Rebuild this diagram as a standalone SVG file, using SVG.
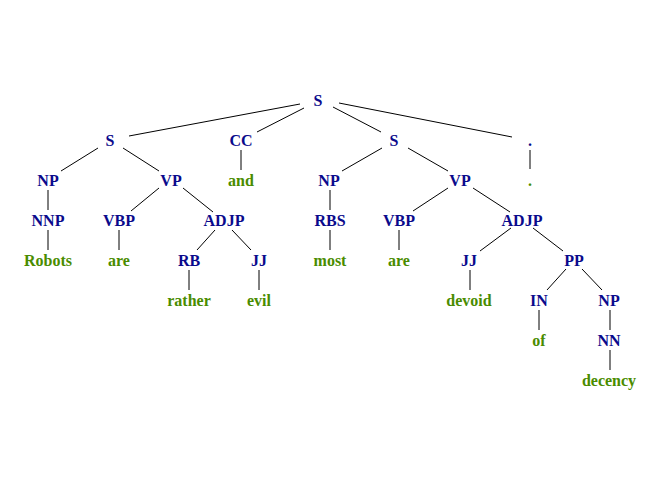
<svg xmlns="http://www.w3.org/2000/svg" width="672" height="480" viewBox="0 0 672 480">
  <style>
    text { font-family: "Liberation Serif", "Times New Roman", serif; font-size: 16px; font-weight: bold; text-anchor: middle; }
    .tag { fill: #0a0a8c; }
    .word { fill: #4a8c00; }
    #edges line { stroke: #000; stroke-width: 1; }
  </style>
  <rect width="672" height="480" fill="#fff"/>

  <!-- tree edges -->
  <g id="edges">
    <line x1="300" y1="104" x2="129" y2="136"/>
    <line x1="304" y1="108" x2="257" y2="132"/>
    <line x1="333" y1="107" x2="381" y2="132"/>
    <line x1="339" y1="103" x2="512" y2="137"/>

    <line x1="98" y1="148" x2="61" y2="171"/>
    <line x1="123" y1="148" x2="159" y2="171"/>
    <line x1="241" y1="150" x2="241" y2="170"/>
    <line x1="382" y1="148" x2="342" y2="171"/>
    <line x1="408" y1="148" x2="448" y2="171"/>
    <line x1="530" y1="150" x2="530" y2="169"/>

    <line x1="48" y1="190" x2="48" y2="210"/>
    <line x1="159" y1="188" x2="131" y2="211"/>
    <line x1="183" y1="188" x2="213" y2="212"/>
    <line x1="330" y1="190" x2="330" y2="210"/>
    <line x1="448" y1="188" x2="413" y2="211"/>
    <line x1="473" y1="188" x2="510" y2="212"/>

    <line x1="48" y1="230" x2="48" y2="250"/>
    <line x1="119" y1="230" x2="119" y2="250"/>
    <line x1="215" y1="230" x2="197" y2="250"/>
    <line x1="232" y1="230" x2="251" y2="250"/>
    <line x1="330" y1="230" x2="330" y2="250"/>
    <line x1="399" y1="230" x2="399" y2="250"/>
    <line x1="511" y1="228" x2="480" y2="251"/>
    <line x1="533" y1="228" x2="563" y2="251"/>

    <line x1="189" y1="270" x2="189" y2="290"/>
    <line x1="259" y1="270" x2="259" y2="290"/>
    <line x1="470" y1="270" x2="470" y2="290"/>
    <line x1="566" y1="269" x2="547" y2="290"/>
    <line x1="582" y1="269" x2="602" y2="290"/>

    <line x1="539" y1="310" x2="539" y2="330"/>
    <line x1="610" y1="310" x2="610" y2="330"/>
    <line x1="610" y1="350" x2="610" y2="370"/>
  </g>

  <!-- nodes -->
  <g id="n-root"><text class="tag" x="318" y="106">S</text></g>

  <g id="n-s1"><text class="tag" x="110" y="146">S</text></g>
  <g id="n-cc"><text class="tag" x="241" y="146">CC</text></g>
  <g id="n-s2"><text class="tag" x="394" y="146">S</text></g>
  <g id="n-punct"><text class="tag" x="530" y="146">.</text></g>

  <g id="n-np1"><text class="tag" x="48" y="186">NP</text></g>
  <g id="n-vp1"><text class="tag" x="171" y="186">VP</text></g>
  <g id="w-and"><text class="word" x="241" y="186">and</text></g>
  <g id="n-np2"><text class="tag" x="329" y="186">NP</text></g>
  <g id="n-vp2"><text class="tag" x="460" y="186">VP</text></g>
  <g id="w-dot"><text class="word" x="530" y="186">.</text></g>

  <g id="n-nnp"><text class="tag" x="48" y="226">NNP</text></g>
  <g id="n-vbp1"><text class="tag" x="119" y="226">VBP</text></g>
  <g id="n-adjp1"><text class="tag" x="224" y="226">ADJP</text></g>
  <g id="n-rbs"><text class="tag" x="330" y="226">RBS</text></g>
  <g id="n-vbp2"><text class="tag" x="399" y="226">VBP</text></g>
  <g id="n-adjp2"><text class="tag" x="522" y="226">ADJP</text></g>

  <g id="w-robots"><text class="word" x="48" y="266">Robots</text></g>
  <g id="w-are1"><text class="word" x="119" y="266">are</text></g>
  <g id="n-rb"><text class="tag" x="189" y="266">RB</text></g>
  <g id="n-jj1"><text class="tag" x="259" y="266">JJ</text></g>
  <g id="w-most"><text class="word" x="330" y="266">most</text></g>
  <g id="w-are2"><text class="word" x="399" y="266">are</text></g>
  <g id="n-jj2"><text class="tag" x="469" y="266">JJ</text></g>
  <g id="n-pp"><text class="tag" x="574" y="266">PP</text></g>

  <g id="w-rather"><text class="word" x="189" y="306">rather</text></g>
  <g id="w-evil"><text class="word" x="259" y="306">evil</text></g>
  <g id="w-devoid"><text class="word" x="469" y="306">devoid</text></g>
  <g id="n-in"><text class="tag" x="539" y="306">IN</text></g>
  <g id="n-np3"><text class="tag" x="609" y="306">NP</text></g>

  <g id="w-of"><text class="word" x="539" y="346">of</text></g>
  <g id="n-nn"><text class="tag" x="609" y="346">NN</text></g>

  <g id="w-decency"><text class="word" x="609" y="386">decency</text></g>
</svg>
